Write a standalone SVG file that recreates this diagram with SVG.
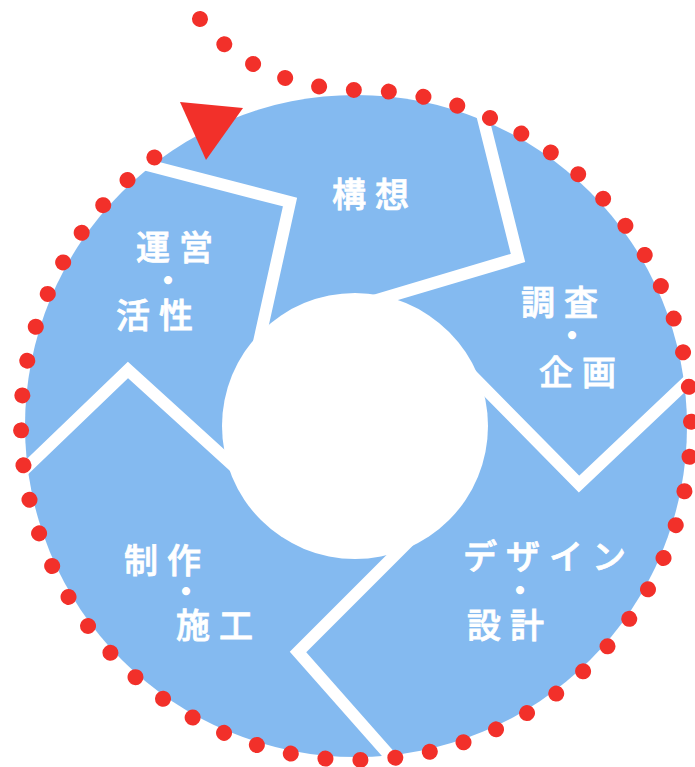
<svg xmlns="http://www.w3.org/2000/svg" width="695" height="767" viewBox="0 0 695 767">
<style>
.lbl{font-family:"Noto Sans CJK JP","Noto Sans CJK SC",sans-serif;font-size:34px;font-weight:500;fill:#ffffff;stroke:#ffffff;stroke-width:0.8px;letter-spacing:9px}
.dot{font-size:24px;font-weight:700;stroke-width:2px;letter-spacing:0px}
.div{fill:none;stroke:#ffffff;stroke-width:12;stroke-linejoin:miter}
</style>
<rect width="695" height="767" fill="#ffffff"/>
<g id="ring">
<circle cx="356" cy="426" r="331" fill="#84baf0"/>
<polyline class="div" points="120,158 290,202 255,360"/>
<polyline class="div" points="478,98 518,258 350,308"/>
<polyline class="div" points="440,343 579,484 710,360"/>
<polyline class="div" points="420,530 298,652 420,790"/>
<polyline class="div" points="0,493 128,370 260,490"/>
<circle cx="355" cy="426" r="133" fill="#ffffff"/>
</g>
<g id="connectors">
<path d="M200,19 C240,70 300,88 353.1,90 A335,335 0 1 1 154.9,157.1" fill="none" stroke="#f2302a" stroke-width="16" stroke-linecap="round" stroke-dasharray="0.001 35"/>
<polygon points="180,102 243,108 206,160" fill="#f2302a"/>
</g>
<g id="node-kousou">
<text class="lbl" x="332" y="207">構想</text>
</g>
<g id="node-chousa">
<text class="lbl"><tspan x="521" y="315">調査</tspan><tspan class="dot" x="560" y="344">・</tspan><tspan x="539" y="385">企画</tspan></text>
</g>
<g id="node-design">
<text class="lbl"><tspan x="463" y="569">デザイン</tspan><tspan class="dot" x="508" y="599">・</tspan><tspan x="467" y="638">設計</tspan></text>
</g>
<g id="node-seisaku">
<text class="lbl"><tspan x="124" y="573">制作</tspan><tspan class="dot" x="174" y="600">・</tspan><tspan x="176" y="638">施工</tspan></text>
</g>
<g id="node-unei">
<text class="lbl"><tspan x="136" y="260">運営</tspan><tspan class="dot" x="156" y="289">・</tspan><tspan x="116" y="328">活性</tspan></text>
</g>
</svg>
